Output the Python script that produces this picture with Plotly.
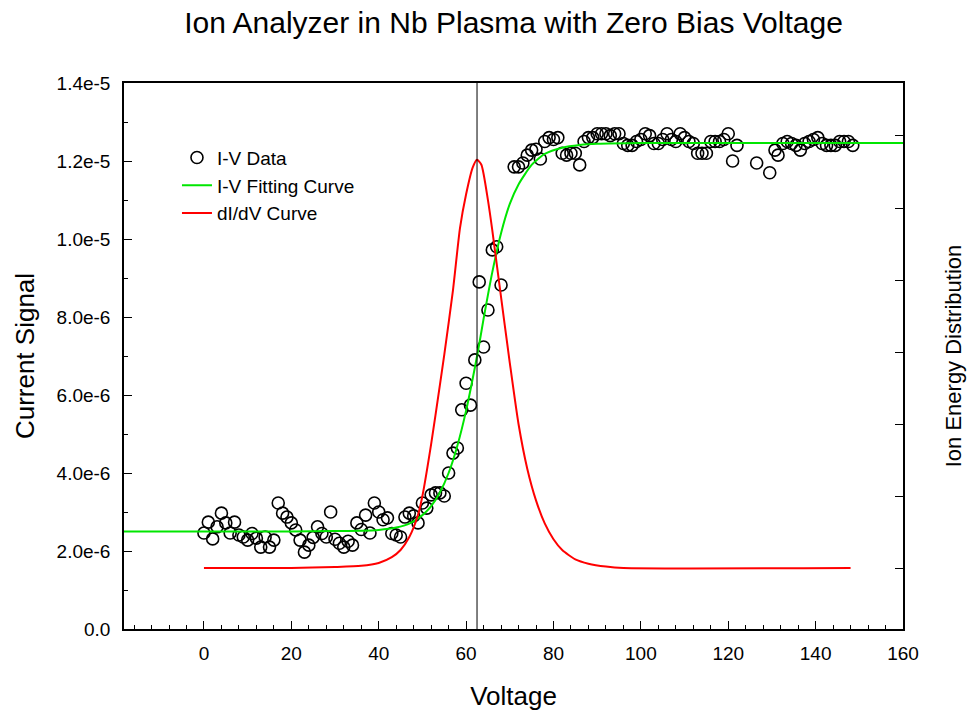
import numpy as np
import plotly.graph_objects as go

# ---------------- data ----------------
# I-V data points: voltage (V) and current signal (units of 1e-6)
iv_voltage = list(range(0, 69)) + [71, 72, 73, 74, 75, 76, 77, 78, 79, 80, 81, 82, 83, 84, 85, 86, 87, 88, 89,
                                    90, 91, 92, 93, 94, 95, 96, 97, 98, 99, 100, 101, 102, 103, 104, 105, 106,
                                    107, 108, 109, 110, 111, 112, 113, 114, 115, 116, 117, 118, 119, 120, 121,
                                    122, 126.5, 129.5, 130.7, 131.4, 132.5, 133.5, 134.5, 135.5, 136.5, 137.5,
                                    138.5, 139.5, 140.5, 141.5, 142.5, 143.5, 144.5, 145.5, 146.5, 147.5, 148.5]
iv_current_u = [2.46, 2.74, 2.31, 2.62, 2.97, 2.72, 2.46, 2.74, 2.41, 2.36,
                2.28, 2.45, 2.33, 2.10, 2.36, 2.10, 2.28, 3.23, 2.97, 2.87,
                2.72, 2.54, 2.28, 1.97, 2.15, 2.35, 2.62, 2.45, 2.36, 3.00,
                2.30, 2.20, 2.10, 2.25, 2.15, 2.72, 2.55, 2.92, 2.46, 3.23,
                3.00, 2.80, 2.85, 2.45, 2.41, 2.36, 2.87, 2.97, 2.90, 2.72,
                3.23, 3.10, 3.44, 3.49, 3.49, 3.41, 4.00, 4.51, 4.64, 5.62,
                6.30, 5.74, 6.90, 8.90, 7.23, 8.18, 9.72, 9.80, 8.82,
                11.85, 11.85, 11.95, 12.15, 12.28, 12.30, 12.05, 12.50, 12.60, 12.55,
                12.60, 12.20, 12.15, 12.20, 12.20, 11.90, 12.50, 12.60, 12.60,
                12.70, 12.70, 12.70, 12.65, 12.70, 12.70, 12.45, 12.40, 12.40, 12.50,
                12.55, 12.70, 12.65, 12.45, 12.45, 12.55, 12.70, 12.55, 12.50, 12.70,
                12.60, 12.50, 12.45, 12.20, 12.20, 12.20, 12.50, 12.50, 12.50, 12.55,
                12.70, 12.00, 12.40, 11.95, 11.70, 12.28, 12.15, 12.45, 12.50, 12.45,
                12.40, 12.28, 12.45, 12.50, 12.55, 12.60, 12.45, 12.40, 12.40, 12.40,
                12.50, 12.50, 12.50, 12.40]

# I-V fitting curve, units of 1e-6
fit_voltage = [-18.3, 0, 20, 30, 36, 40, 44, 47, 50, 52, 54, 56, 58, 60, 62, 63, 64, 66, 68,
               70, 72, 75, 78, 82, 86, 90, 100, 130, 160]
fit_current_u = [2.50, 2.50, 2.50, 2.51, 2.52, 2.54, 2.60, 2.70, 2.92, 3.15, 3.50, 4.00, 4.70,
                 5.60, 6.70, 7.30, 7.95, 9.15, 10.15, 10.90, 11.40, 11.90, 12.18, 12.34, 12.41,
                 12.44, 12.46, 12.46, 12.46]

# dI/dV curve (ion energy distribution, arbitrary units)
didv_voltage = [0, 20, 30, 36, 40, 43, 45, 47, 49, 50, 52, 54, 55, 57, 58.6, 60, 61.5, 62.5,
                63.5, 65, 66, 67.7, 70, 72, 74, 76, 78, 80, 82, 85, 88, 92, 96, 148]
didv_value = [0.0, 0.0, 0.014, 0.03, 0.07, 0.15, 0.25, 0.43, 0.74, 1.00, 1.72, 2.54, 2.96,
              3.86, 4.72, 5.19, 5.56, 5.67, 5.60, 5.11, 4.69, 3.90, 2.85, 2.00, 1.38, 0.94,
              0.62, 0.40, 0.25, 0.12, 0.06, 0.02, 0.0, 0.0]

peak_voltage = 62.5

x_tick_vals = [0, 20, 40, 60, 80, 100, 120, 140, 160]
y_tick_vals_u = [0, 2, 4, 6, 8, 10, 12, 14]
y_tick_text = ["0.0", "2.0e-6", "4.0e-6", "6.0e-6", "8.0e-6", "1.0e-5", "1.2e-5", "1.4e-5"]

# ---------------- figure ----------------
iv_current = np.array(iv_current_u) * 1e-6
fit_current = np.array(fit_current_u) * 1e-6
y_tick_vals = np.array(y_tick_vals_u) * 1e-6

FONT = "Liberation Sans, Arial, sans-serif"

fig = go.Figure()
fig.add_trace(go.Scatter(
    x=iv_voltage, y=iv_current, mode="markers", name="I-V Data",
    marker=dict(symbol="circle-open", size=12, color="black", line=dict(width=1.6, color="black")),
))
fig.add_trace(go.Scatter(
    x=fit_voltage, y=fit_current, mode="lines", name="I-V Fitting Curve",
    line=dict(color="#00e600", width=2, shape="spline", smoothing=0.6),
))
fig.add_trace(go.Scatter(
    x=didv_voltage, y=didv_value, mode="lines", name="dI/dV Curve", yaxis="y2",
    line=dict(color="#ff0000", width=2, shape="spline", smoothing=0.6),
))

fig.add_shape(type="line", xref="x", yref="paper", x0=peak_voltage, x1=peak_voltage, y0=0, y1=1,
              line=dict(color="black", width=1))

fig.update_layout(
    width=967, height=715,
    margin=dict(l=124, r=64, t=83, b=86, autoexpand=False),
    paper_bgcolor="white", plot_bgcolor="white",
    font=dict(family=FONT, color="black", size=18),
    title=dict(text="Ion Analyzer in Nb Plasma with Zero Bias Voltage", x=0.5, xref="paper",
               xanchor="center", y=1 - 22 / 715, yref="container", yanchor="middle",
               font=dict(size=30, family=FONT, color="black")),
    showlegend=True,
    legend=dict(x=0.068, y=0.898, xanchor="left", yanchor="top", bgcolor="rgba(0,0,0,0)",
                font=dict(size=19, family=FONT), tracegroupgap=0),
    xaxis=dict(range=[-18.3, 160], tickvals=x_tick_vals, ticks="inside", ticklen=8, tickwidth=1.3,
               tickcolor="black", showline=True, linecolor="black", linewidth=1.5, mirror=True,
               showgrid=False, zeroline=False, tickfont=dict(size=19), ticklabelstandoff=6,
               automargin=False,
               minor=dict(dtick=4, ticks="inside", ticklen=4, tickcolor="black", showgrid=False),
               title=dict(text="Voltage", font=dict(size=26), standoff=24)),
    yaxis=dict(range=[0, 14e-6], tickvals=y_tick_vals, ticktext=y_tick_text, ticks="inside",
               ticklen=8, tickwidth=1.3, tickcolor="black", showline=True, linecolor="black",
               linewidth=1.5, showgrid=False, zeroline=False, tickfont=dict(size=19),
               ticklabelstandoff=8, automargin=False,
               minor=dict(dtick=1e-6, ticks="inside", ticklen=4, tickcolor="black", showgrid=False),
               title=dict(text="Current Signal", font=dict(size=26), standoff=14)),
    yaxis2=dict(overlaying="y", side="right", range=[-0.847, 6.736], dtick=1, tick0=0,
                ticks="inside", ticklen=8, tickwidth=1.3, tickcolor="black", showline=True,
                linecolor="black", linewidth=1.5, showgrid=False, zeroline=False,
                showticklabels=False, automargin=False,
                title=dict(text="Ion Energy Distribution", font=dict(size=22), standoff=42)),
)

fig.write_html("out.html")
